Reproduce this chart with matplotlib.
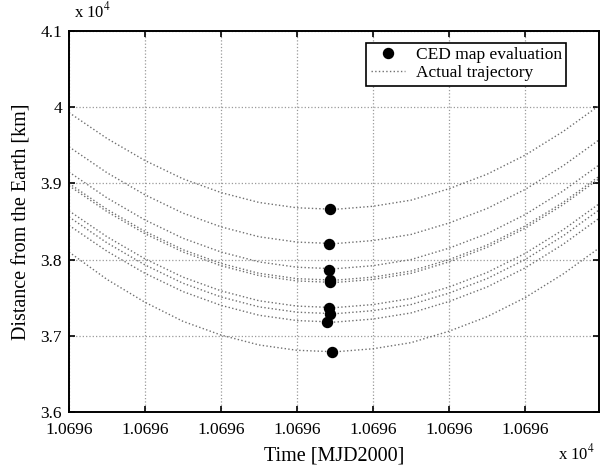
import matplotlib
matplotlib.use("Agg")
import matplotlib.pyplot as plt

plt.rcParams["font.family"] = "Liberation Serif"
plt.rcParams["mathtext.fontset"] = "stix"

# sample times [MJD2000] along each trajectory
t = [10695.850, 10695.875, 10695.900, 10695.925, 10695.950, 10695.975,
     10696.000, 10696.025, 10696.050, 10696.075, 10696.100, 10696.125,
     10696.150, 10696.175, 10696.200]

# distance from the Earth [km] for each trajectory
traj_1 = [39930, 39590, 39300, 39060, 38880, 38750, 38680, 38660, 38700, 38780, 38930, 39120, 39370, 39680, 40040]
traj_2 = [39480, 39140, 38850, 38610, 38430, 38300, 38230, 38210, 38250, 38330, 38480, 38670, 38920, 39230, 39590]
traj_3 = [39150, 38810, 38520, 38280, 38100, 37970, 37900, 37880, 37920, 38000, 38150, 38340, 38590, 38900, 39260]
traj_4 = [39000, 38660, 38370, 38130, 37950, 37820, 37750, 37730, 37770, 37850, 38000, 38190, 38440, 38750, 39110]
traj_5 = [38970, 38630, 38340, 38100, 37920, 37790, 37720, 37700, 37740, 37820, 37970, 38160, 38410, 38720, 39080]
traj_6 = [38640, 38300, 38010, 37770, 37590, 37460, 37390, 37370, 37410, 37490, 37640, 37830, 38080, 38390, 38750]
traj_7 = [38560, 38220, 37930, 37690, 37510, 37380, 37310, 37290, 37330, 37410, 37560, 37750, 38000, 38310, 38670]
traj_8 = [38450, 38110, 37820, 37580, 37400, 37270, 37200, 37180, 37220, 37300, 37450, 37640, 37890, 38200, 38560]
traj_9 = [38100, 37740, 37440, 37190, 37010, 36880, 36810, 36790, 36830, 36910, 37060, 37250, 37500, 37810, 38170]
trajectories = [traj_1, traj_2, traj_3, traj_4, traj_5, traj_6, traj_7, traj_8, traj_9]

# CED map evaluation points
ced_t = [10696.0215, 10696.0210, 10696.0210, 10696.0215, 10696.0215,
         10696.0210, 10696.0220, 10696.0200, 10696.0230]
ced_d = [38660, 38210, 37870, 37730, 37710, 37370, 37290, 37180, 36790]

x_ticks = [10695.85, 10695.90, 10695.95, 10696.00, 10696.05, 10696.10, 10696.15]
y_ticks = [36000, 37000, 38000, 39000, 40000, 41000]

fig = plt.figure(figsize=(6.01, 4.72), dpi=100)
ax = fig.add_axes([0.1148, 0.1271, 0.8819, 0.8072])

for i, d in enumerate(trajectories):
    ax.plot(t, d, linestyle=":", color="#707070", linewidth=1.0,
            label="Actual trajectory" if i == 0 else None, zorder=2)
ax.plot(ced_t, ced_d, "o", color="black", markersize=7.2, linestyle="none",
        label="CED map evaluation", zorder=3)

ax.set_xlim(10695.85, 10696.1987)
ax.set_ylim(36000, 41000)
ax.set_xticks(x_ticks)
ax.set_xticklabels([f"{v / 1e4:.4f}" for v in x_ticks])
ax.set_yticks(y_ticks)
ax.set_yticklabels([f"{v / 1e4:g}" for v in y_ticks])
ax.tick_params(direction="in", top=True, right=True, labelsize=12.5,
               length=4, width=1.2)
ax.tick_params(axis="x", pad=7)
ax.tick_params(axis="y", pad=5)
for s in ax.spines.values():
    s.set_linewidth(1.4)
ax.grid(True, linestyle=":", color="#9a9a9a", linewidth=0.9)

ax.set_xlabel("Time [MJD2000]", fontsize=14.5, labelpad=6)
ax.set_ylabel("Distance from the Earth [km]", fontsize=14.5, labelpad=6)

fig.text(0.123, 0.955, r"x 10$^4$", fontsize=12, ha="left", va="bottom")
fig.text(0.928, 0.018, r"x 10$^4$", fontsize=12, ha="left", va="bottom")

h, l = ax.get_legend_handles_labels()
leg = ax.legend(h[::-1], l[::-1], loc="upper right", bbox_to_anchor=(0.938, 0.969),
                borderaxespad=0, fontsize=12.5, fancybox=False, framealpha=1,
                edgecolor="black", handlelength=2.0, handletextpad=0.6,
                borderpad=0.25, labelspacing=0.1)
leg.get_frame().set_linewidth(1.2)

fig.savefig("out.png", dpi=100)
